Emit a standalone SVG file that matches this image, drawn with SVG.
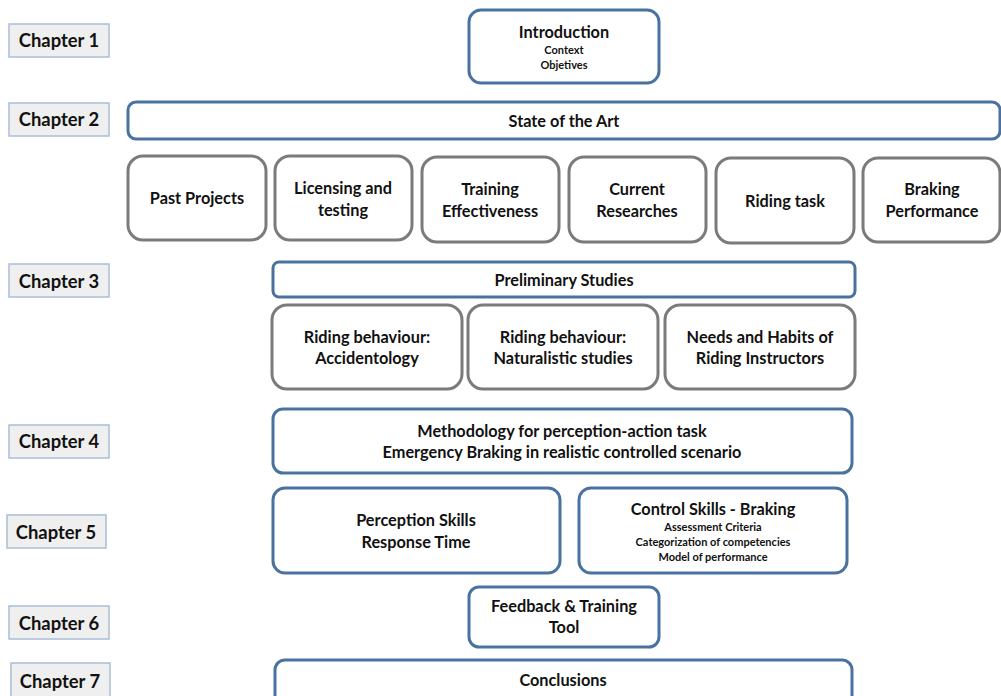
<svg xmlns="http://www.w3.org/2000/svg" width="1001" height="696" viewBox="0 0 1001 696">
  <style>
    text { font-family: Lato, "Open Sans", "Liberation Sans", sans-serif; font-weight: bold; fill: #111; text-anchor: middle; }
    .chap rect { fill: #efefef; stroke: #a8bfd8; stroke-width: 1.5; }
    .chap text { font-size: 18.4px; }
    .blue { fill: #fff; stroke: #4a72a0; stroke-width: 3; }
    .gray { fill: #fff; stroke: #7b7b7b; stroke-width: 3; }
    .t { font-size: 16.3px; }
    .s { font-size: 11px; }
  </style>

  <!-- chapter labels -->
  <g id="chapter1" class="chap"><rect x="9" y="24" width="100" height="33"/><text x="59" y="47">Chapter 1</text></g>
  <g id="chapter2" class="chap"><rect x="9" y="103" width="100" height="33"/><text x="59" y="126">Chapter 2</text></g>
  <g id="chapter3" class="chap"><rect x="9" y="264" width="100" height="33"/><text x="59" y="288">Chapter 3</text></g>
  <g id="chapter4" class="chap"><rect x="9" y="425" width="100" height="33"/><text x="59" y="448">Chapter 4</text></g>
  <g id="chapter5" class="chap"><rect x="7" y="515" width="99" height="33"/><text x="56" y="539">Chapter 5</text></g>
  <g id="chapter6" class="chap"><rect x="9" y="606" width="100" height="33"/><text x="59" y="630">Chapter 6</text></g>
  <g id="chapter7" class="chap"><rect x="11" y="663" width="99" height="34"/><text x="60" y="688">Chapter 7</text></g>

  <!-- chapter 1 -->
  <g id="introduction">
    <rect class="blue" x="469" y="10" width="190" height="73" rx="12"/>
    <text class="t" x="564" y="38">Introduction</text>
    <text class="s" x="564" y="54">Context</text>
    <text class="s" x="564" y="69">Objetives</text>
  </g>

  <!-- chapter 2 -->
  <g id="state-of-the-art">
    <rect class="blue" x="128" y="102" width="872" height="37" rx="8"/>
    <text class="t" x="564" y="127">State of the Art</text>
  </g>
  <g id="past-projects">
    <rect class="gray" x="128" y="156" width="138" height="84" rx="15"/>
    <text class="t" x="197" y="204">Past Projects</text>
  </g>
  <g id="licensing">
    <rect class="gray" x="275" y="156" width="137" height="84" rx="15"/>
    <text class="t" x="343" y="194">Licensing and</text>
    <text class="t" x="343" y="216">testing</text>
  </g>
  <g id="training-effectiveness">
    <rect class="gray" x="422" y="157" width="137" height="85" rx="15"/>
    <text class="t" x="490" y="195">Training</text>
    <text class="t" x="490" y="217">Effectiveness</text>
  </g>
  <g id="current-researches">
    <rect class="gray" x="569" y="157" width="137" height="85" rx="15"/>
    <text class="t" x="637" y="195">Current</text>
    <text class="t" x="637" y="217">Researches</text>
  </g>
  <g id="riding-task">
    <rect class="gray" x="716" y="158" width="138" height="85" rx="15"/>
    <text class="t" x="785" y="207">Riding task</text>
  </g>
  <g id="braking-performance">
    <rect class="gray" x="863" y="158" width="137" height="84" rx="15"/>
    <text class="t" x="932" y="195">Braking</text>
    <text class="t" x="932" y="217">Performance</text>
  </g>

  <!-- chapter 3 -->
  <g id="preliminary-studies">
    <rect class="blue" x="273" y="262" width="582" height="35" rx="6"/>
    <text class="t" x="564" y="286">Preliminary Studies</text>
  </g>
  <g id="accidentology">
    <rect class="gray" x="272" y="305" width="190" height="84" rx="15"/>
    <text class="t" x="367" y="343">Riding behaviour:</text>
    <text class="t" x="367" y="364">Accidentology</text>
  </g>
  <g id="naturalistic">
    <rect class="gray" x="468" y="305" width="190" height="84" rx="15"/>
    <text class="t" x="563" y="343">Riding behaviour:</text>
    <text class="t" x="563" y="364">Naturalistic studies</text>
  </g>
  <g id="instructors">
    <rect class="gray" x="665" y="305" width="190" height="84" rx="15"/>
    <text class="t" x="760" y="343">Needs and Habits of</text>
    <text class="t" x="760" y="364">Riding Instructors</text>
  </g>

  <!-- chapter 4 -->
  <g id="methodology">
    <rect class="blue" x="273" y="409" width="579" height="64" rx="10"/>
    <text class="t" x="562" y="437">Methodology for perception-action task</text>
    <text class="t" x="562" y="458">Emergency Braking in realistic controlled scenario</text>
  </g>

  <!-- chapter 5 -->
  <g id="perception-skills">
    <rect class="blue" x="273" y="488" width="287" height="85" rx="12"/>
    <text class="t" x="416" y="526">Perception Skills</text>
    <text class="t" x="416" y="548">Response Time</text>
  </g>
  <g id="control-skills">
    <rect class="blue" x="579" y="488" width="268" height="85" rx="12"/>
    <text class="t" x="713" y="515">Control Skills - Braking</text>
    <text class="s" x="713" y="531">Assessment Criteria</text>
    <text class="s" x="713" y="546">Categorization of competencies</text>
    <text class="s" x="713" y="561">Model of performance</text>
  </g>

  <!-- chapter 6 -->
  <g id="feedback-tool">
    <rect class="blue" x="469" y="587" width="190" height="60" rx="10"/>
    <text class="t" x="564" y="612">Feedback &amp; Training</text>
    <text class="t" x="564" y="633">Tool</text>
  </g>

  <!-- chapter 7 -->
  <g id="conclusions">
    <rect class="blue" x="275" y="660" width="577" height="50" rx="10"/>
    <text class="t" x="563" y="686">Conclusions</text>
  </g>

  <g id="connectors"/>
</svg>
